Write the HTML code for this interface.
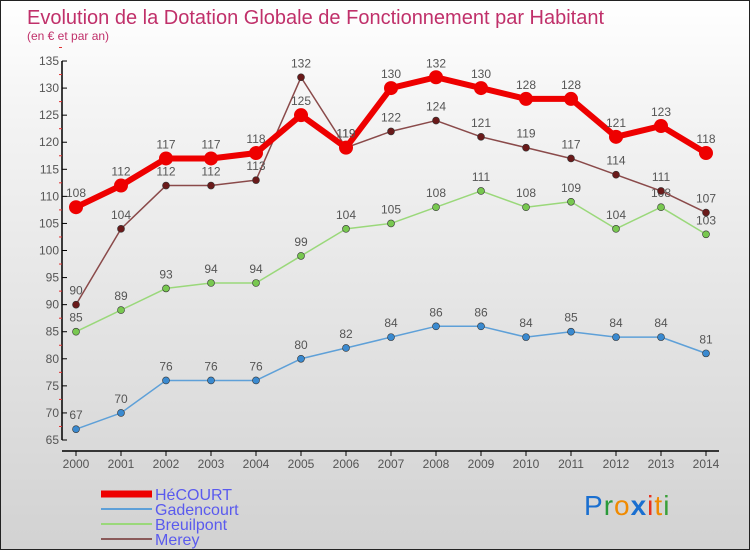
<!DOCTYPE html>
<html><head><meta charset="utf-8"><style>
body{margin:0}
#wrap{width:748px;height:548px;border:1px solid #222;position:relative;overflow:hidden;background:linear-gradient(#ffffff,#f4f4f4 20%,#d2d2d2);font-family:"Liberation Sans",sans-serif}
</style></head><body>
<div id="wrap">
<svg id="chart" width="748" height="548" style="position:absolute;left:0;top:0">
<text x="26" y="23" font-size="20" fill="#c0306a">Evolution de la Dotation Globale de Fonctionnement par Habitant</text>
<text x="26" y="39" font-size="12" fill="#c0306a">(en € et par an)</text>
<g id="axes"></g><g id="series"></g><g id="legend"></g>
<text x="583" y="514" font-size="28" letter-spacing="1"><tspan fill="#1a6fd0">P</tspan><tspan fill="#2a9a3a">r</tspan><tspan fill="#f08a00">o</tspan><tspan fill="#1a6fd0" font-weight="bold">x</tspan><tspan fill="#e8321e">i</tspan><tspan fill="#f08a00">t</tspan><tspan fill="#3aa03a">i</tspan></text>
</svg>
</div>
<script>
const years=[2000,2001,2002,2003,2004,2005,2006,2007,2008,2009,2010,2011,2012,2013,2014];
const hecourt=[108,112,117,117,118,125,119,130,132,130,128,128,121,123,118];
const gadencourt=[67,70,76,76,76,80,82,84,86,86,84,85,84,84,81];
const breuilpont=[85,89,93,94,94,99,104,105,108,111,108,109,104,108,103];
const merey=[90,104,112,112,113,132,119,122,124,121,119,117,114,111,107];
const yTicks=[65,70,75,80,85,90,95,100,105,110,115,120,125,130,135];
const NS="http://www.w3.org/2000/svg";
function X(i){return 75+i*45;}
function Y(v){return 439-(v-65)*5.414;}
function mk(tag,attrs,parent){const e=document.createElementNS(NS,tag);for(const k in attrs)e.setAttribute(k,attrs[k]);parent.appendChild(e);return e;}
const axes=document.getElementById('axes');
let l=mk('line',{x1:61,y1:60,x2:61,y2:439,stroke:'#000','stroke-width':1.5},axes);


l=mk('line',{x1:61,y1:450,x2:718,y2:450,stroke:'#000','stroke-width':1.5},axes);


yTicks.forEach(v=>{
 mk('line',{x1:61,y1:Y(v),x2:66,y2:Y(v),stroke:'#000'},axes);
 mk('line',{x1:58,y1:Y(v+2.5),x2:61,y2:Y(v+2.5),stroke:'#e03030'},axes);
 const t=mk('text',{x:58,y:Y(v)+4,'font-size':12,fill:'#555','text-anchor':'end'},axes);
 t.textContent=v;
 
 
});
years.forEach((yr,i)=>{
 mk('line',{x1:X(i),y1:450,x2:X(i),y2:455,stroke:'#000'},axes);
 const t=mk('text',{x:X(i),y:467,'font-size':12,fill:'#555','text-anchor':'middle'},axes);
 t.textContent=yr;
 
 
});
const sg=document.getElementById('series');
function series(data,color,dot,w,r,name){
 const g=mk('g',{},sg);
 
 
 mk('polyline',{points:data.map((v,i)=>X(i)+','+Y(v)).join(' '),fill:'none',stroke:color,'stroke-width':w,'stroke-linejoin':'round'},g);
 data.forEach((v,i)=>{
  const c=mk('circle',{cx:X(i),cy:Y(v),r:r,fill:dot,stroke:'#333','stroke-width':r>5?0:0.6},g);
  
  
  const t=mk('text',{x:X(i),y:Y(v)-10,'font-size':12,fill:'#555','text-anchor':'middle'},g);
  t.textContent=v;
  
  
 });
}
series(gadencourt,'#5ea0d8','#3a8ad0',1.5,3.5,'gadencourt');
series(breuilpont,'#9ad87a','#78c850',1.5,3.5,'breuilpont');
series(merey,'#8a4a4a','#6a1a1a',1.5,3.5,'merey');
series(hecourt,'#ee0000','#ee0000',6,7,'hecourt');
const lg=document.getElementById('legend');
const items=[['HéCOURT','#ee0000',7],['Gadencourt','#5ea0d8',2],['Breuilpont','#9ad87a',2],['Merey','#8a5a5a',2]];
items.forEach((it,k)=>{
 const y=493+k*15;
 const g=mk('g',{},lg);
 
 
 mk('line',{x1:100,y1:y,x2:151,y2:y,stroke:it[1],'stroke-width':it[2]},g);
 const t=mk('text',{x:154,y:y+6,'font-size':16,fill:'#5a5aee'},g);
 t.textContent=it[0];
});
</script>
</body></html>
